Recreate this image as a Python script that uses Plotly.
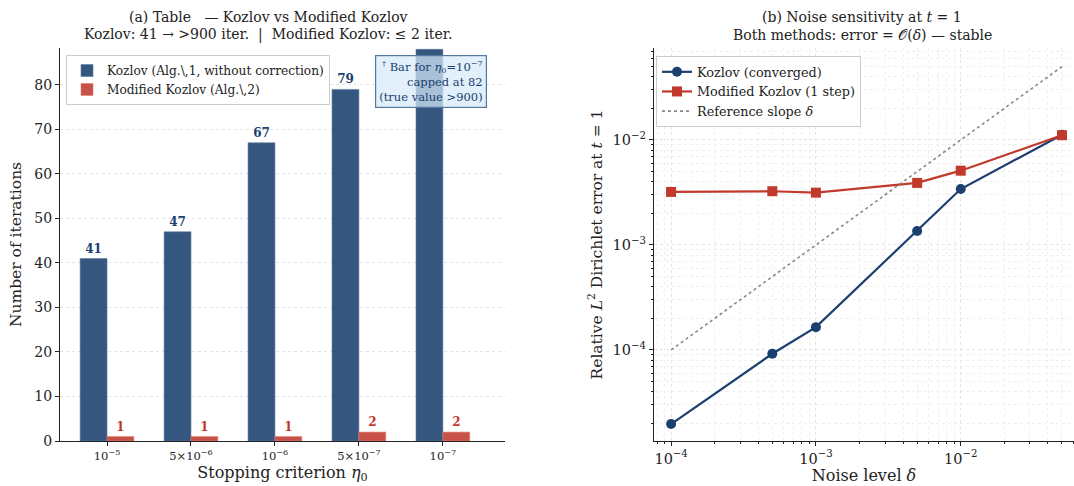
import plotly.graph_objects as go

# ---------------- data ----------------
criteria = ["10<sup>−5</sup>", "5×10<sup>−6</sup>", "10<sup>−6</sup>", "5×10<sup>−7</sup>", "10<sup>−7</sup>"]
kozlov_iters = [41, 47, 67, 79, 88]          # last bar capped (true value > 900)
kozlov_labels = ["41", "47", "67", "79", ""]
modified_iters = [1, 1, 1, 2, 2]
modified_labels = ["1", "1", "1", "2", "2"]

noise = [1e-4, 5e-4, 1e-3, 5e-3, 1e-2, 5e-2]
kozlov_err = [1.97e-5, 9.2e-5, 1.65e-4, 1.36e-3, 3.41e-3, 1.12e-2]
modified_err = [3.2e-3, 3.25e-3, 3.15e-3, 3.9e-3, 5.1e-3, 1.11e-2]
ref_slope = [1e-4, 5e-2]

major_log = [1e-4, 1e-3, 1e-2]
major_log_text = ["10<sup>−4</sup>", "10<sup>−3</sup>", "10<sup>−2</sup>"]
minor_log = [m * d for d in [1e-5, 1e-4, 1e-3, 1e-2, 1e-1] for m in range(2, 10)]

FONT = "DejaVu Serif"
BLUE_BAR = "#34567F"
RED_BAR = "#C8524A"
BLUE = "#1B3F6E"
RED = "#C0392B"

W, H = 1074, 486
def px(x): return x / W
def py(y): return 1 - y / H

fig = go.Figure()

fig.add_trace(go.Bar(
    x=criteria, y=kozlov_iters, name="Kozlov (Alg.\\,1, without correction)",
    marker=dict(color=BLUE_BAR, line=dict(color="#5a78a0", width=0.6)),
    text=["<b>%s</b>" % t if t else "" for t in kozlov_labels],
    textposition="outside", textfont=dict(color=BLUE, size=12, family=FONT),
    constraintext="none", cliponaxis=False,
    xaxis="x", yaxis="y", legend="legend", offsetgroup="a"))
fig.add_trace(go.Bar(
    x=criteria, y=modified_iters, name="Modified Kozlov (Alg.\\,2)",
    marker=dict(color=RED_BAR, line=dict(color="#e08070", width=0.6)),
    text=["<b>%s</b>" % t for t in modified_labels],
    textposition="outside", textfont=dict(color=RED, size=12, family=FONT),
    constraintext="none", cliponaxis=False,
    xaxis="x", yaxis="y", legend="legend", offsetgroup="b"))

fig.add_trace(go.Scatter(
    x=noise, y=kozlov_err, name="Kozlov (converged)", mode="lines+markers",
    line=dict(color=BLUE, width=2.2), marker=dict(symbol="circle", size=10, color=BLUE),
    xaxis="x2", yaxis="y2", legend="legend2"))
fig.add_trace(go.Scatter(
    x=noise, y=modified_err, name="Modified Kozlov (1 step)", mode="lines+markers",
    line=dict(color=RED, width=2.2), marker=dict(symbol="square", size=10, color=RED),
    xaxis="x2", yaxis="y2", legend="legend2"))
fig.add_trace(go.Scatter(
    x=[noise[0], noise[-1]], y=ref_slope, name="Reference slope <i>δ</i>", mode="lines",
    line=dict(color="#888888", width=1.6, dash="dot"),
    xaxis="x2", yaxis="y2", legend="legend2"))

axis_common = dict(showline=True, linecolor="#222222", linewidth=1.2, ticks="outside",
                   ticklen=4, tickcolor="#222222", mirror=False, zeroline=False,
                   automargin=False)

log_minor = dict(tickvals=minor_log, ticks="outside", ticklen=2, tickcolor="#222222",
                 showgrid=True, gridcolor="#efefef", griddash="dot", gridwidth=0.6)

fig.update_layout(
    width=W, height=H, margin=dict(l=0, r=0, t=0, b=0),
    paper_bgcolor="white", plot_bgcolor="white",
    font=dict(family=FONT, size=13, color="#222222"),
    barmode="group", bargap=0.36, bargroupgap=0,
    xaxis=dict(domain=[px(60), px(505)], anchor="y", range=[-0.56, 4.74],
               tickfont=dict(size=11.5), showgrid=False,
               title=dict(text="Stopping criterion <i>η</i><sub>0</sub>", font=dict(size=16), standoff=4),
               **axis_common),
    yaxis=dict(domain=[py(441), py(48)], anchor="x", range=[0, 88.3],
               tickvals=[0, 10, 20, 30, 40, 50, 60, 70, 80], tickfont=dict(size=14),
               showgrid=True, gridcolor="#e4e4e4", griddash="dot", gridwidth=0.8,
               title=dict(text="Number of iterations", font=dict(size=15.5), standoff=8),
               **axis_common),
    xaxis2=dict(domain=[px(654), 1.0], anchor="y2", type="log", range=[-4.118, -1.218],
                tickvals=major_log, ticktext=major_log_text, tickfont=dict(size=14.5),
                showgrid=True, gridcolor="#e4e4e4", griddash="dot", gridwidth=0.8,
                minor=log_minor,
                title=dict(text="Noise level <i>δ</i>", font=dict(size=16), standoff=4),
                **axis_common),
    yaxis2=dict(domain=[py(441), py(48)], anchor="x2", type="log", range=[-4.867, -1.124],
                tickvals=major_log, ticktext=major_log_text, tickfont=dict(size=14.5),
                showgrid=True, gridcolor="#e4e4e4", griddash="dot", gridwidth=0.8,
                minor=log_minor,
                title=dict(text="Relative <i>L</i><sup>2</sup> Dirichlet error at <i>t</i> = 1",
                           font=dict(size=15.5), standoff=6),
                **axis_common),
    legend=dict(x=px(66), y=py(55), xanchor="left", yanchor="top",
                bgcolor="rgba(255,255,255,0.9)", bordercolor="#cccccc", borderwidth=1,
                font=dict(size=12.2), itemwidth=30, tracegroupgap=0),
    legend2=dict(x=px(656), y=py(56), xanchor="left", yanchor="top",
                 bgcolor="rgba(255,255,255,0.9)", bordercolor="#cccccc", borderwidth=1,
                 font=dict(size=12.8), itemwidth=30),
    showlegend=True,
)

annotations = [
    dict(x=px(268), y=py(17), xref="paper", yref="paper", xanchor="center", yanchor="middle",
         showarrow=False, text="(a) Table   — Kozlov vs Modified Kozlov", font=dict(size=14)),
    dict(x=px(268), y=py(35), xref="paper", yref="paper", xanchor="center", yanchor="middle",
         showarrow=False, text="Kozlov: 41 → &gt;900 iter.  |  Modified Kozlov: ≤ 2 iter.",
         font=dict(size=14)),
    dict(x=px(862), y=py(17), xref="paper", yref="paper", xanchor="center", yanchor="middle",
         showarrow=False, text="(b) Noise sensitivity at <i>t</i> = 1", font=dict(size=14)),
    dict(x=px(862), y=py(35), xref="paper", yref="paper", xanchor="center", yanchor="middle",
         showarrow=False, text="Both methods: error = 𝒪(<i>δ</i>) — stable", font=dict(size=14)),
    dict(x=px(487), y=py(55), xref="paper", yref="paper", xanchor="right", yanchor="top",
         showarrow=False, align="right",
         text="<sup>†</sup> Bar for <i>η</i><sub>0</sub>=10<sup>−7</sup><br>capped at 82<br>(true value &gt;900)",
         font=dict(size=11.5, color="#1B3F6E"),
         bgcolor="rgba(214,234,250,0.72)", bordercolor="#5577a0", borderwidth=1.2, borderpad=3),
]
fig.update_layout(annotations=annotations)

fig.write_html("out.html", config={"displayModeBar": False},
               post_script="document.body.style.margin='0';document.body.style.overflow='hidden';")
